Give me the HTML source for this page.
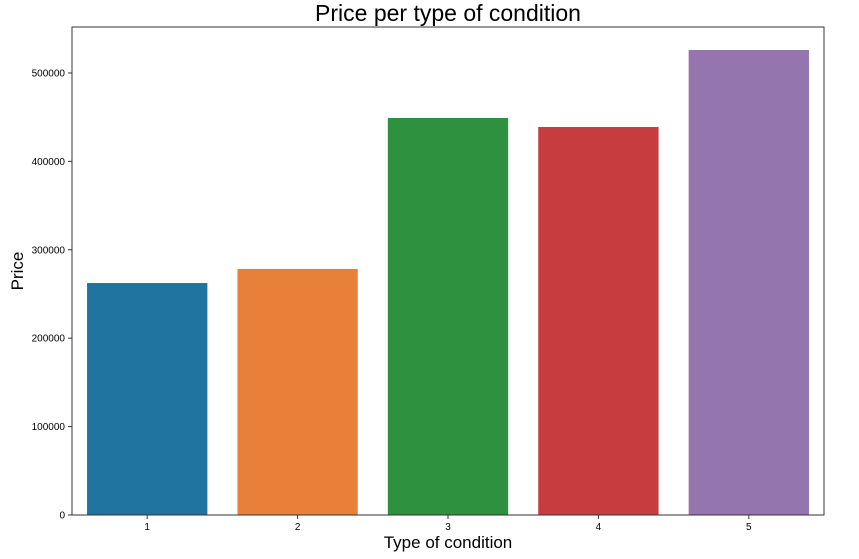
<!DOCTYPE html>
<html><head><meta charset="utf-8"><style>
html,body{margin:0;padding:0;background:#fff;}
svg{display:block;font-family:"Liberation Sans","DejaVu Sans",sans-serif;}
</style></head><body>
<svg id="chart" width="859" height="559" viewBox="0 0 859 559">
<text x="448" y="21" text-anchor="middle" font-size="23" fill="#000">Price per type of condition</text>
<text x="448" y="548" text-anchor="middle" font-size="17" fill="#000">Type of condition</text>
<text transform="translate(23,271) rotate(-90)" text-anchor="middle" font-size="17" fill="#000">Price</text>
<g id="bars"></g>
<g id="yticks"></g>
<g id="xticks"></g>
<rect x="72" y="27" width="752" height="488" fill="none" stroke="#333" stroke-width="1"/>
</svg>
<script>
const categories = ["1","2","3","4","5"];
const values = [262400, 278300, 449100, 438900, 526000];
const colors = ["#1f74a0","#e9803a","#2e913f","#c63c3f","#9575ae"];
const yTickValues = [0,100000,200000,300000,400000,500000];

const L=72,R=824,T=27,B=515,YMAX=552000;
const ns="http://www.w3.org/2000/svg";
function y(v){return B-(v/YMAX)*(B-T);}
const band=(R-L)/categories.length;
function xc(i){return L+band*(i+0.5);}
const bw=band*0.8;
const bars=document.getElementById('bars');
values.forEach((v,i)=>{
  const r=document.createElementNS(ns,'rect');
  r.setAttribute('x',xc(i)-bw/2);r.setAttribute('y',y(v));
  r.setAttribute('width',bw);r.setAttribute('height',B-y(v));
  r.setAttribute('fill',colors[i]);
  
  
  bars.appendChild(r);
});
const yt=document.getElementById('yticks');
yTickValues.forEach(v=>{
  const l=document.createElementNS(ns,'line');
  l.setAttribute('x1',L-4);l.setAttribute('x2',L);l.setAttribute('y1',y(v));l.setAttribute('y2',y(v));
  l.setAttribute('stroke','#333');
  
  
  yt.appendChild(l);
  const t=document.createElementNS(ns,'text');
  t.setAttribute('x',L-7);t.setAttribute('y',y(v)+3.5);t.setAttribute('text-anchor','end');
  t.setAttribute('font-size','10');t.textContent=String(v);
  
  
  yt.appendChild(t);
});
const xt=document.getElementById('xticks');
categories.forEach((c,i)=>{
  const l=document.createElementNS(ns,'line');
  l.setAttribute('x1',xc(i));l.setAttribute('x2',xc(i));l.setAttribute('y1',B);l.setAttribute('y2',B+4);
  l.setAttribute('stroke','#333');
  
  
  xt.appendChild(l);
  const t=document.createElementNS(ns,'text');
  t.setAttribute('x',xc(i));t.setAttribute('y',B+15);t.setAttribute('text-anchor','middle');
  t.setAttribute('font-size','10');t.textContent=c;
  
  
  xt.appendChild(t);
});
</script>
</body></html>
